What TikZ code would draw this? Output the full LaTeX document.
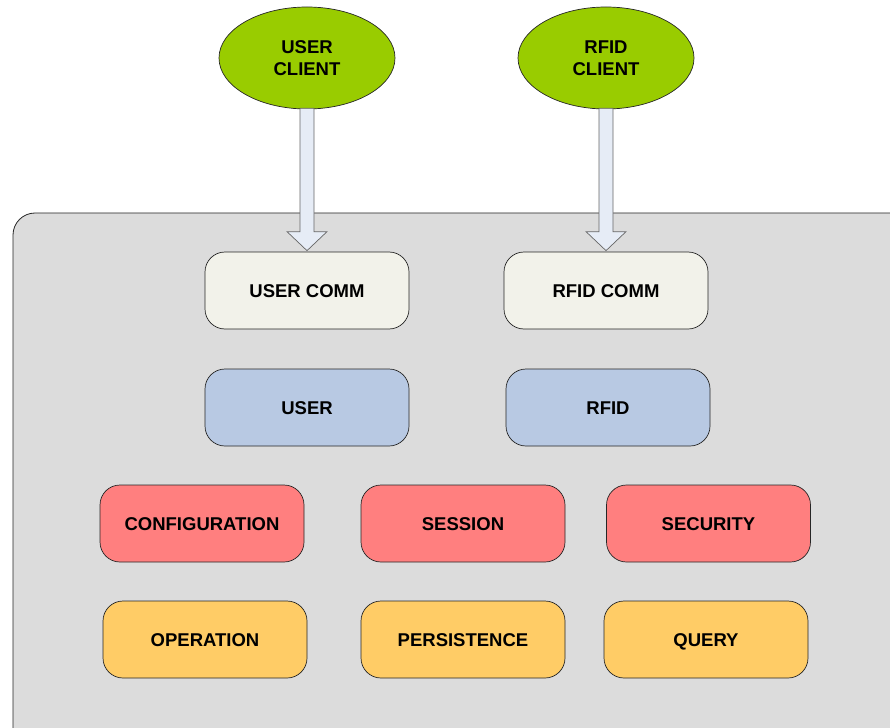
\documentclass[tikz,border=0pt]{standalone}
\usepackage{fontspec}
\setmainfont{Liberation Sans}
\usetikzlibrary{calc,shapes.geometric}
\definecolor{contfill}{HTML}{DCDCDC}
\definecolor{clientgreen}{HTML}{99CC00}
\definecolor{commfill}{HTML}{F2F2EA}
\definecolor{corefill}{HTML}{B8C9E3}
\definecolor{svcfill}{HTML}{FF7F7F}
\definecolor{datafill}{HTML}{FFCC66}
\definecolor{arrowfill}{HTML}{E6ECF6}
\begin{document}
\begin{tikzpicture}[x=1pt,y=-1pt,
  lbl/.style={font=\fontsize{18.5}{22}\selectfont\bfseries, align=center},
  client/.style={lbl, ellipse, draw=black!85, line width=0.7pt, fill=clientgreen, minimum width=176pt, minimum height=102pt, inner sep=0pt},
  mod/.style={lbl, rounded corners=20pt, draw=black!85, line width=0.7pt, minimum width=204pt, minimum height=77pt, inner sep=0pt, text height=13pt, text depth=0pt},
  bigarrow/.style={draw=black!60, line width=0.7pt, fill=arrowfill, line join=miter}
]
\useasboundingbox (0,0) rectangle (890,727);
% container
\draw[fill=contfill, draw=black!85, line width=0.8pt, rounded corners=22pt] (13,213) rectangle (912,750);

% clients
\node[client] (uc) at (307,58) {USER\\CLIENT};
\node[client] (rc) at (606,58) {RFID\\CLIENT};

% comm layer
\node[mod, fill=commfill] (ucomm) at (307,290.5) {USER COMM};
\node[mod, fill=commfill] (rcomm) at (606,290.5) {RFID COMM};

% core layer
\node[mod, fill=corefill] (user) at (307,407.5) {USER};
\node[mod, fill=corefill] (rfid) at (608,407.5) {RFID};

% services
\node[mod, fill=svcfill] (conf) at (202,523.5) {CONFIGURATION};
\node[mod, fill=svcfill] (sess) at (463,523.5) {SESSION};
\node[mod, fill=svcfill] (secu) at (708.5,523.5) {SECURITY};

% data
\node[mod, fill=datafill] (oper) at (205,639.5) {OPERATION};
\node[mod, fill=datafill] (pers) at (463,639.5) {PERSISTENCE};
\node[mod, fill=datafill] (quer) at (706,639.5) {QUERY};

% block arrows
\foreach \a/\b in {uc/ucomm, rc/rcomm}{
  \draw[bigarrow]
    ($(\a.south)+(-7,-1)$) -- ($(\b.north)+(-7,-20)$) -- ($(\b.north)+(-20,-20)$)
    -- ($(\b.north)+(0,-1)$) -- ($(\b.north)+(20,-20)$) -- ($(\b.north)+(7,-20)$)
    -- ($(\a.south)+(7,-1)$) -- cycle;
}
\end{tikzpicture}
\end{document}
